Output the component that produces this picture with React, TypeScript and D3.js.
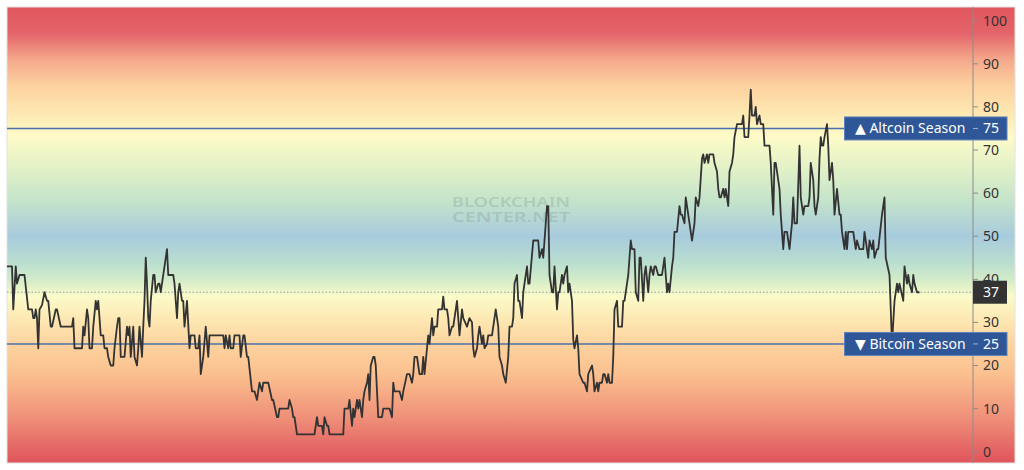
import React from "react";
import * as d3 from "d3";

// day index (0..730) and Altcoin Season Index value
const dayIdx = [
  0, 4, 5, 7, 8, 10, 14, 17, 20, 21, 22, 23, 24, 25, 26, 28, 30, 32, 33, 35, 36, 39, 40, 43, 52, 53, 54, 60, 61, 62,
  64, 65, 66, 68, 69, 71, 72, 73, 75, 77, 78, 80, 81, 83, 85, 86, 88, 89, 90, 91, 94, 96, 97, 98, 99, 101, 102, 104, 105, 106,
  108, 109, 110, 111, 112, 113, 114, 115, 117, 118, 119, 121, 122, 123, 125, 126, 128, 129, 133, 134, 136, 137, 138, 140, 141, 142, 144, 146, 147, 150,
  151, 153, 154, 155, 157, 159, 161, 162, 173, 174, 175, 177, 178, 179, 181, 182, 186, 187, 189, 190, 192, 193, 196, 198, 200, 202, 204, 205, 209, 212,
  213, 216, 217, 218, 225, 226, 228, 229, 230, 232, 246, 248, 249, 252, 253, 254, 256, 257, 258, 269, 270, 273, 274, 276, 277, 278, 280, 281, 282, 284,
  285, 286, 288, 289, 290, 291, 293, 294, 295, 297, 300, 301, 306, 308, 309, 310, 314, 316, 317, 320, 322, 324, 325, 326, 328, 329, 330, 332, 333, 334,
  336, 337, 338, 340, 341, 342, 344, 345, 348, 349, 350, 352, 353, 354, 356, 357, 358, 360, 361, 362, 364, 365, 368, 370, 372, 373, 374, 376, 377, 378,
  380, 381, 382, 384, 385, 386, 388, 389, 391, 393, 394, 396, 397, 399, 401, 402, 404, 405, 406, 408, 409, 410, 412, 413, 414, 416, 417, 418, 421, 422,
  425, 426, 428, 429, 430, 432, 433, 434, 436, 437, 438, 440, 441, 442, 444, 445, 446, 448, 449, 450, 452, 453, 454, 456, 457, 458, 461, 462, 464, 465,
  468, 469, 470, 472, 473, 474, 476, 477, 478, 480, 481, 482, 484, 485, 486, 488, 489, 490, 492, 493, 494, 496, 497, 499, 500, 502, 503, 505, 506, 507,
  509, 510, 511, 513, 514, 515, 517, 518, 519, 521, 524, 525, 526, 528, 529, 530, 532, 533, 534, 536, 538, 539, 540, 542, 543, 544, 546, 548, 550, 551,
  553, 554, 556, 557, 558, 560, 561, 562, 565, 566, 568, 569, 570, 571, 573, 574, 575, 576, 577, 578, 580, 581, 582, 584, 588, 589, 590, 593, 594, 595,
  596, 598, 599, 600, 602, 603, 605, 606, 610, 611, 613, 614, 615, 616, 618, 619, 621, 622, 624, 625, 626, 628, 629, 630, 632, 634, 635, 637, 638, 641,
  642, 643, 645, 646, 647, 649, 650, 651, 652, 653, 654, 656, 657, 658, 660, 661, 662, 664, 666, 667, 668, 670, 671, 672, 673, 677, 679, 680, 682, 685,
  686, 689, 690, 692, 693, 694, 696, 697, 700, 702, 703, 706, 708, 710, 712, 713, 714, 717, 718, 720, 721, 722, 724, 725, 726, 728, 730,
];
const altIndex = [
  43, 43, 33, 43, 39, 41, 41, 33, 33, 31, 31, 33, 31, 24, 33, 34, 37, 35, 35, 29, 29, 33, 33, 29, 29, 31, 24, 24, 29, 27,
  33, 31, 24, 24, 29, 35, 33, 35, 27, 27, 24, 24, 22, 20, 20, 24, 29, 31, 31, 22, 22, 29, 27, 29, 22, 29, 22, 20, 24, 29,
  22, 29, 35, 45, 39, 31, 29, 35, 41, 41, 37, 39, 39, 37, 41, 43, 47, 41, 41, 39, 31, 37, 39, 35, 35, 29, 35, 24, 27, 27,
  24, 24, 27, 18, 22, 29, 22, 27, 27, 24, 27, 24, 27, 24, 24, 27, 27, 22, 27, 27, 22, 22, 14, 14, 12, 16, 14, 16, 16, 12,
  12, 8, 8, 10, 10, 12, 10, 8, 8, 4, 4, 8, 6, 6, 4, 8, 6, 6, 4, 4, 10, 10, 12, 6, 10, 8, 12, 10, 12, 8,
  12, 14, 16, 18, 12, 20, 22, 22, 20, 8, 8, 10, 10, 8, 16, 14, 14, 12, 14, 18, 18, 16, 18, 22, 22, 20, 18, 18, 22, 18,
  24, 27, 25, 31, 27, 29, 29, 33, 33, 36, 33, 33, 31, 27, 29, 29, 31, 35, 31, 27, 33, 31, 29, 31, 30, 24, 22, 24, 27, 29,
  25, 27, 24, 25, 27, 27, 27, 29, 33, 29, 22, 20, 18, 16, 22, 29, 29, 31, 39, 41, 35, 35, 31, 37, 39, 43, 39, 39, 49, 49,
  49, 45, 47, 45, 49, 57, 57, 41, 37, 37, 43, 33, 37, 37, 41, 39, 41, 43, 37, 39, 35, 26, 24, 27, 24, 18, 16, 16, 14, 18,
  20, 18, 14, 16, 14, 16, 16, 18, 18, 16, 18, 16, 16, 22, 33, 35, 29, 29, 29, 35, 35, 39, 41, 49, 47, 47, 37, 35, 45, 45,
  35, 41, 43, 37, 41, 43, 41, 43, 43, 41, 41, 43, 45, 37, 39, 37, 43, 45, 51, 51, 57, 55, 55, 53, 59, 57, 53, 49, 53, 59,
  57, 59, 68, 69, 67, 69, 67, 69, 69, 67, 65, 61, 59, 59, 61, 59, 61, 59, 57, 65, 67, 69, 73, 76, 76, 78, 73, 73, 78, 84,
  78, 78, 80, 76, 78, 76, 76, 71, 71, 67, 55, 67, 67, 65, 61, 55, 47, 51, 51, 49, 47, 53, 59, 53, 53, 71, 59, 55, 57, 57,
  59, 67, 63, 57, 55, 59, 68, 73, 71, 71, 73, 76, 71, 63, 67, 63, 55, 61, 55, 55, 51, 47, 51, 47, 51, 51, 47, 49, 47, 47,
  51, 45, 49, 47, 49, 45, 47, 47, 55, 59, 45, 41, 25, 35, 39, 37, 39, 35, 43, 39, 41, 39, 37, 41, 39, 37, 37,
];

const yTicks = [0, 10, 20, 30, 40, 50, 60, 70, 80, 90, 100];
const altcoinLevel = 75;
const bitcoinLevel = 25;
const currentValue = 37;
const altcoinLabel = "▲ Altcoin Season";
const bitcoinLabel = "▼ Bitcoin Season";
const watermarkLines = ["BLOCKCHAIN", "CENTER.NET"];

// background gradient stops: [index value, colour]
const bgStops: [number, string][] = [
  [103, "#e0575d"],
  [97, "#e3646a"],
  [91, "#f5a88b"],
  [85, "#fcd19f"],
  [79, "#fee6b0"],
  [73, "#fdfbc8"],
  [65, "#dff0c7"],
  [58, "#c3e3ca"],
  [50, "#a8cbdd"],
  [44, "#b9ded0"],
  [40, "#d2ebc9"],
  [36, "#fbfbc9"],
  [31, "#fde9b4"],
  [25, "#fdd39f"],
  [18, "#fbc08f"],
  [8, "#ef9079"],
  [-2, "#e0575d"],
];

export default function App() {
  const W = 1024;
  const H = 470;
  const plotL = 7;
  const plotR = 1015;
  const plotT = 7;
  const plotB = 463;
  const axisX = 973;

  const y = d3.scaleLinear().domain([0, 100]).range([451.7, 20.7]);
  const x = d3.scaleLinear().domain([0, 730]).range([7, 919.5]);

  const pts: [number, number][] = dayIdx.map((d, i) => [d, altIndex[i]]);
  const line = d3
    .line<[number, number]>()
    .x((p) => x(p[0]))
    .y((p) => y(p[1]));

  const font = "'Noto Sans', 'DejaVu Sans', sans-serif";

  const labelBox = (val: number, text: string, key: string) => {
    const cy = y(val);
    return (
      <g key={key}>
        <rect x={844.5} y={cy - 11.5} width={162.5} height={23} fill="#2f5797" stroke="#5f82bd" strokeWidth={1} />
        <text x={855} y={cy} dy="0.35em" fill="#fff" fontSize={14} fontFamily={font}>
          {text}
        </text>
        <line x1={axisX} x2={axisX + 5} y1={cy} y2={cy} stroke="#9fb3d6" strokeWidth={1} />
        <text x={983} y={cy} dy="0.35em" fill="#fff" fontSize={14} fontFamily={font}>
          {val}
        </text>
      </g>
    );
  };

  return (
    <svg width={W} height={H} style={{ position: "absolute", left: 0, top: 0, background: "#fff" }}>
      <defs>
        <linearGradient id="bg" gradientUnits="userSpaceOnUse" x1={0} x2={0} y1={plotT} y2={plotB}>
          {bgStops.map(([v, c], i) => (
            <stop key={i} offset={(y(v) - plotT) / (plotB - plotT)} stopColor={c} />
          ))}
        </linearGradient>
      </defs>
      <rect x={plotL} y={plotT} width={plotR - plotL} height={plotB - plotT} fill="url(#bg)" stroke="#e2e2e2" strokeWidth={1} />

      {/* watermark */}
      <g fill="#6f7a78" fillOpacity={0.24} fontFamily={font} fontWeight={600} fontSize={15}>
        <text x={452} y={206.5} textLength={118} lengthAdjust="spacingAndGlyphs">{watermarkLines[0]}</text>
        <text x={452} y={222} textLength={118} lengthAdjust="spacingAndGlyphs">{watermarkLines[1]}</text>
      </g>

      {/* reference lines */}
      <line x1={plotL} x2={axisX} y1={y(currentValue)} y2={y(currentValue)} stroke="#9a9a9a" strokeWidth={1} strokeDasharray="1.5,2" />
      <line x1={plotL} x2={axisX} y1={y(altcoinLevel)} y2={y(altcoinLevel)} stroke="#4a70ad" strokeWidth={1.6} />
      <line x1={plotL} x2={axisX} y1={y(bitcoinLevel)} y2={y(bitcoinLevel)} stroke="#4a70ad" strokeWidth={1.6} />

      {/* series */}
      <path d={line(pts) || ""} fill="none" stroke="#333" strokeWidth={1.8} strokeLinejoin="round" />

      {/* right axis */}
      <line x1={axisX} x2={axisX} y1={plotT} y2={plotB} stroke="#8c8c8c" strokeWidth={1} />
      {yTicks.map((t) => (
        <g key={t}>
          <line x1={axisX} x2={axisX + 5} y1={y(t)} y2={y(t)} stroke="#8c8c8c" strokeWidth={1} />
          <text x={983} y={y(t)} dy="0.35em" fill="#333" fontSize={14} fontFamily={font}>
            {t}
          </text>
        </g>
      ))}

      {labelBox(altcoinLevel, altcoinLabel, "alt")}
      {labelBox(bitcoinLevel, bitcoinLabel, "btc")}

      {/* current value badge */}
      <rect x={973} y={y(currentValue) - 11.5} width={34} height={23} fill="#333" />
      <text x={983} y={y(currentValue)} dy="0.35em" fill="#fff" fontSize={14} fontFamily={font}>
        {currentValue}
      </text>
    </svg>
  );
}
